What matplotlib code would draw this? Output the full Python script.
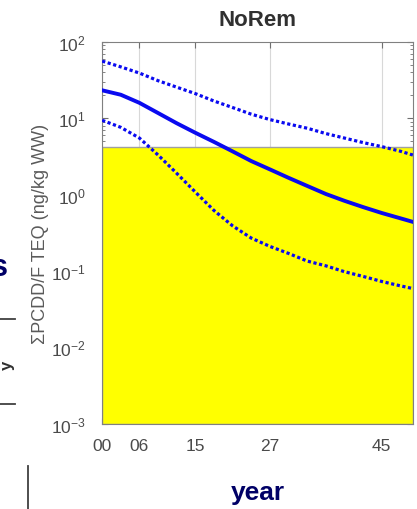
import matplotlib
matplotlib.use("Agg")
import matplotlib.pyplot as plt
from matplotlib.ticker import LogLocator, NullFormatter

plt.rcParams["font.family"] = ["Liberation Sans", "DejaVu Sans"]

# ---- data ----
years = [0, 3, 6, 9, 12, 15, 18, 21, 24, 27, 30, 33, 36, 39, 42, 45, 48, 50]
upper = [56, 47, 39, 31, 25.5, 21, 16.8, 13.8, 11.3, 9.6, 8.4, 7.4, 6.3, 5.5,
         4.8, 4.25, 3.7, 3.3]
median = [23.2, 20.3, 15.9, 11.7, 8.6, 6.45, 4.9, 3.68, 2.75, 2.14, 1.66, 1.3,
          1.02, 0.83, 0.687, 0.575, 0.49, 0.44]
lower = [9.4, 7.6, 5.5, 3.3, 1.9, 1.08, 0.62, 0.39, 0.27, 0.21, 0.17, 0.135,
         0.117, 0.098, 0.085, 0.073, 0.064, 0.059]
threshold = 4.2
xtick_vals = [0, 6, 15, 27, 45]
xtick_labels = ["00", "06", "15", "27", "45"]

BLUE = "#0a0af0"
GRAY = "#4a4a4a"
NAVY = "#000066"

fig = plt.figure(figsize=(4.17, 5.10), dpi=100)
ax = fig.add_axes([0.245, 0.167, 0.745, 0.749])

ax.axhspan(1e-3, threshold, facecolor="#ffff00", edgecolor="#a0a0a0",
           linewidth=1.0, zorder=1)
ax.plot(years, upper, color=BLUE, lw=2.3, dashes=(1, 0.8), zorder=3)
ax.plot(years, median, "-", color=BLUE, lw=2.8, zorder=3)
ax.plot(years, lower, color=BLUE, lw=2.3, dashes=(1, 0.8), zorder=3)

ax.set_yscale("log")
ax.set_ylim(1e-3, 1e2)
ax.set_xlim(0, 50)
ax.set_xticks(xtick_vals)
ax.set_xticklabels(xtick_labels)
ax.yaxis.set_major_locator(LogLocator(base=10, numticks=10))
ax.yaxis.set_minor_locator(LogLocator(base=10, subs=range(2, 10), numticks=20))
ax.yaxis.set_minor_formatter(NullFormatter())
ax.grid(axis="x", color="#d8d8d8", lw=0.8, zorder=0)
ax.set_axisbelow(True)

ax.tick_params(which="both", direction="in", top=True, right=True,
               colors="#707070", labelcolor=GRAY, labelsize=12.5)
ax.tick_params(which="major", length=4)
ax.tick_params(which="minor", length=2)
ax.tick_params(axis="y", pad=12)
ax.tick_params(axis="x", pad=10)
for sp in ax.spines.values():
    sp.set_color("#808080")

ax.set_title("NoRem", fontsize=16, fontweight="bold", color="#303030", pad=12)
ax.set_ylabel("ΣPCDD/F TEQ (ng/kg WW)", fontsize=13, color="#5a5a5a", labelpad=1)

# slide fragments around the chart
fig.text(0.619, 0.033, "year", fontsize=19, fontweight="bold", color=NAVY,
         ha="center", va="center")
fig.text(0.018, 0.475, "s", fontsize=22, fontweight="bold", color=NAVY,
         ha="right", va="center")
fig.text(0.0, 0.284, "y", fontsize=12, fontweight="bold", color="#303030",
         rotation=90, ha="left", va="center")
fig.add_artist(plt.Line2D([0, 0.036], [0.373, 0.373], color="#404040", lw=1.3))
fig.add_artist(plt.Line2D([0, 0.036], [0.206, 0.206], color="#404040", lw=1.3))
fig.add_artist(plt.Line2D([0.067, 0.067], [0.0, 0.084], color="#404040", lw=1.3))

fig.savefig("out.png", dpi=100)
